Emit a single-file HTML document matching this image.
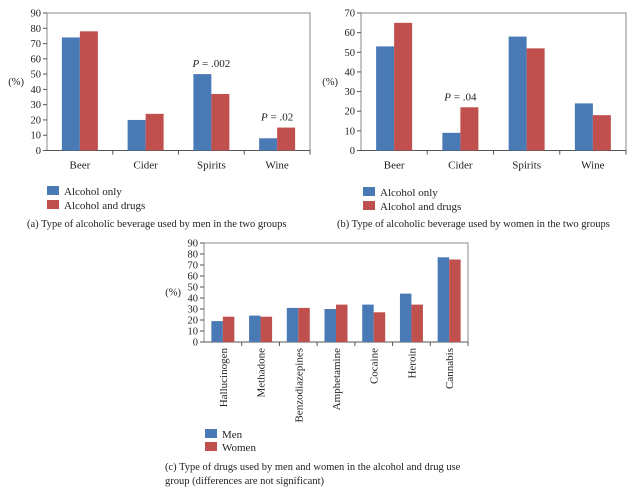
<!DOCTYPE html>
<html><head><meta charset="utf-8"><style>
body{margin:0;background:#fff;width:636px;height:494px;overflow:hidden}
svg{font-family:"Liberation Serif",serif;}
</style></head><body>
<svg id="s" width="636" height="494"></svg>
<script>
const catsA=["Beer","Cider","Spirits","Wine"];
const menAlcOnly=[74,20,50,8];
const menAlcDrugs=[78,24,37,15];
const womenAlcOnly=[53,9,58,24];
const womenAlcDrugs=[65,22,52,18];
const drugCats=["Hallucinogen","Methadone","Benzodiazepines","Amphetamine","Cocaine","Heroin","Cannabis"];
const drugMen=[19,24,31,30,34,44,77];
const drugWomen=[23,23,31,34,27,34,75];
const ticksA=[0,10,20,30,40,50,60,70,80,90];
const ticksB=[0,10,20,30,40,50,60,70];
const BLUE="#4a7ab5",RED="#c0504d";
const svg=document.getElementById('s');
const NS="http://www.w3.org/2000/svg";
function el(t,a,p){const e=document.createElementNS(NS,t);for(const k in a)e.setAttribute(k,a[k]);(p||svg).appendChild(e);return e;}
function txt(s,a,p){const e=el('text',a,p);e.textContent=s;return e;}
function chart(name,x0,x1,y0,y1,max,ticks,cats,s1,s2,barW,fs,rot,notes){
  const g=el('g',{});
  
  
  const ys=v=>y1-(v/max)*(y1-y0);
  const cw=(x1-x0)/cats.length;
  const r=el('rect',{x:x0,y:y0,width:x1-x0,height:y1-y0,fill:'none',stroke:'#888','stroke-width':1},g);
  
  ticks.forEach(t=>{const y=ys(t);
    el('line',{x1:x0-4,x2:x0,y1:y,y2:y,stroke:'#555'},g);
    const l=txt(t,{x:x0-6,y:y+3.5,'text-anchor':'end','font-size':fs,fill:'#222'},g);
    });
  el('line',{x1:x0,x2:x1,y1:y1,y2:y1,stroke:'#555'},g);
  cats.forEach((c,i)=>{
    el('line',{x1:x0+cw*(i+1),x2:x0+cw*(i+1),y1:y1,y2:y1+4,stroke:'#555'},g);
    const cx=x0+cw*(i+0.5);
    const b1=el('rect',{x:cx-barW,y:ys(s1[i]),width:barW,height:y1-ys(s1[i]),fill:BLUE},g);
    
    const b2=el('rect',{x:cx,y:ys(s2[i]),width:barW,height:y1-ys(s2[i]),fill:RED},g);
    
    let l;
    if(rot){l=txt(c,{x:0,y:0,'text-anchor':'end','font-size':11,fill:'#222',transform:`translate(${cx+4},${y1+6}) rotate(-90)`},g);}
    else{l=txt(c,{x:cx,y:y1+18,'text-anchor':'middle','font-size':11,fill:'#222'},g);}
    
    if(notes&&notes[i]){const n=txt('',{x:cx,y:Math.min(ys(s1[i]),ys(s2[i]))-7,'text-anchor':'middle','font-size':11,fill:'#222'},g);
      n.innerHTML='<tspan font-style="italic">P</tspan> = '+notes[i];
      }
  });
  const yl=txt('(%)',{x:x0-23,y:(y0+y1)/2+3,'text-anchor':'end','font-size':fs,fill:'#222'},g);
  
}
function legend(x,y,labels,dy){labels.forEach((l,i)=>{
  el('rect',{x:x,y:y+i*dy-9,width:12,height:9,fill:i?RED:BLUE});
  const t=txt(l,{x:x+17,y:y+i*dy,'font-size':11,fill:'#222'});
  });}
function cap(s,x,y){const t=txt(s,{x:x,y:y,'font-size':10.5,fill:'#222'});}
chart('chart-men',47,310,13,150.5,90,ticksA,catsA,menAlcOnly,menAlcDrugs,18,10.5,false,[null,null,'.002','.02']);
chart('chart-women',361,626,13,150.5,70,ticksB,catsA,womenAlcOnly,womenAlcDrugs,18,10.5,false,[null,'.04',null,null]);
chart('chart-drugs',204,468,243,342,90,ticksA,drugCats,drugMen,drugWomen,11.5,10.5,true,null);
legend(47,195,["Alcohol only","Alcohol and drugs"],14);
legend(363,196,["Alcohol only","Alcohol and drugs"],14);
legend(205,438,["Men","Women"],13);
cap("(a)  Type of alcoholic beverage used by men in the two groups",27,227);
cap("(b)  Type of alcoholic beverage used by women in the two groups",337,227);
cap("(c)  Type of drugs used by men and women in the alcohol and drug use",165,470);
cap("group (differences are not significant)",165,484);
</script>
</body></html>
